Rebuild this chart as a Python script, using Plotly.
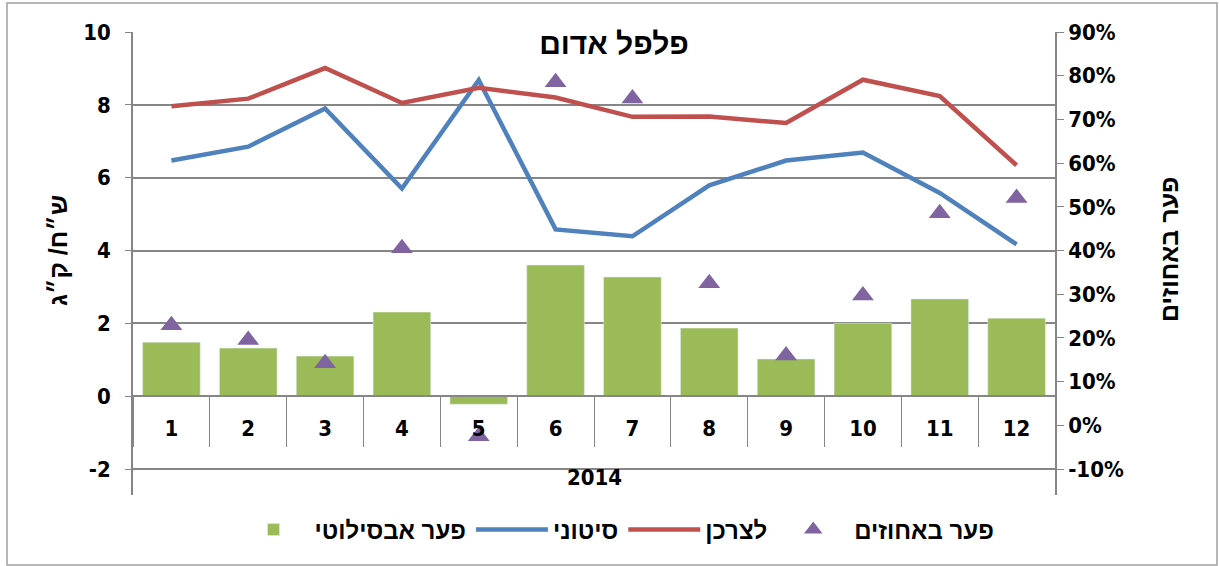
import plotly.graph_objects as go

months = ["1", "2", "3", "4", "5", "6", "7", "8", "9", "10", "11", "12"]
wholesale = [6.47, 6.85, 7.90, 5.70, 8.68, 4.58, 4.39, 5.79, 6.47, 6.69, 5.58, 4.17]
consumer = [7.96, 8.17, 9.01, 8.05, 8.47, 8.20, 7.67, 7.68, 7.50, 8.69, 8.24, 6.34]
abs_gap = [1.48, 1.32, 1.10, 2.31, -0.22, 3.60, 3.27, 1.87, 1.02, 2.00, 2.67, 2.14]
pct_gap = [0.229, 0.195, 0.142, 0.405, -0.025, 0.785, 0.748, 0.325, 0.160, 0.297, 0.485, 0.520]

left_tickvals = [-2, 0, 2, 4, 6, 8, 10]
left_ticktext = ["-2", "0", "2", "4", "6", "8", "10"]
right_tickvals = [-0.1, 0.0, 0.1, 0.2, 0.3, 0.4, 0.5, 0.6, 0.7, 0.8, 0.9]
right_ticktext = ["-10%", "0%", "10%", "20%", "30%", "40%", "50%", "60%", "70%", "80%", "90%"]

FONT = "Liberation Sans, DejaVu Sans"
NUMFONT = "DejaVu Sans Condensed, DejaVu Sans"
GRID = "#868686"

fig = go.Figure()
fig.add_trace(go.Bar(x=months, y=abs_gap, name="פער אבסילוטי",
                     marker=dict(color="#9BBB59"), width=0.75))
fig.add_trace(go.Scatter(x=months, y=wholesale, name="סיטוני", mode="lines",
                         line=dict(color="#4F81BD", width=4.5)))
fig.add_trace(go.Scatter(x=months, y=consumer, name="לצרכן", mode="lines",
                         line=dict(color="#C0504D", width=4.5)))
fig.add_trace(go.Scatter(x=months, y=pct_gap, name="פער באחוזים", mode="markers",
                         yaxis="y2",
                         marker=dict(symbol="triangle-up", size=19, color="#8064A2")))

ymin, ymax = -2.714, 10
y0pos = (0 - ymin) / (ymax - ymin)
L, T, PW, PH = 133, 32, 922, 463
numfont = dict(family=NUMFONT, size=22, weight="bold", color="black")
titlefont = dict(family=FONT, size=25, weight="bold", color="black")


def px_x(x):
    return (x - L) / PW


def px_y(y):
    return (T + PH - y) / PH


fig.update_layout(
    width=1219, height=566,
    margin=dict(l=L, r=1219 - L - PW, t=T, b=566 - T - PH, autoexpand=False),
    paper_bgcolor="white", plot_bgcolor="white",
    font=dict(family=FONT, size=20, color="black", weight="bold"),
    showlegend=True,
    legend=dict(orientation="h", x=px_x(616), xanchor="center",
                y=px_y(530), yanchor="middle", yref="paper",
                font=dict(size=24, weight="bold", family=FONT),
                itemwidth=72, traceorder="normal"),
    title=dict(text="פלפל אדום", x=px_x(614), xref="paper", xanchor="center",
               y=1 - 43 / 566, yanchor="middle",
               font=dict(size=30, weight="bold", family=FONT)),
    xaxis=dict(type="category", anchor="free", position=y0pos,
               range=[-0.5, 11.5],
               showline=True, linecolor=GRID, linewidth=1.5,
               ticks="outside", tickson="boundaries", ticklen=50,
               tickcolor=GRID, tickwidth=1.2, ticklabelstandoff=13,
               tickfont=numfont,
               showgrid=False, zeroline=False),
    yaxis=dict(range=[ymin, ymax], tickvals=left_tickvals, ticktext=left_ticktext,
               showgrid=True,
               gridcolor=GRID, gridwidth=1.5, zeroline=False,
               showline=True, linecolor=GRID, linewidth=1.5,
               ticks="outside", ticklen=6, tickcolor=GRID,
               ticklabelstandoff=10,
               tickfont=numfont),
    yaxis2=dict(overlaying="y", side="right",
                range=[-0.1595, 0.9], tickvals=right_tickvals, ticktext=right_ticktext,
                showgrid=False, zeroline=False,
                showline=True, linecolor=GRID, linewidth=1.5,
                ticks="outside", ticklen=7, tickcolor=GRID,
                tickfont=numfont),
)

# axis titles
fig.add_annotation(text="ש״ח/ ק״ג", xref="paper", yref="paper",
                   x=px_x(58), y=px_y(251), textangle=-90, showarrow=False,
                   font=titlefont, xanchor="center", yanchor="middle")
fig.add_annotation(text="פער באחוזים", xref="paper", yref="paper",
                   x=px_x(1169), y=px_y(250), textangle=-90, showarrow=False,
                   font=titlefont, xanchor="center", yanchor="middle")

# category group label
fig.add_annotation(text="2014", xref="paper", yref="paper", x=0.5,
                   y=px_y(477), showarrow=False,
                   font=numfont, yanchor="middle")

# chart border
fig.add_shape(type="rect", xref="paper", yref="paper",
              x0=px_x(7), x1=px_x(1217), y0=px_y(565), y1=px_y(3),
              line=dict(color="#A0A0A0", width=1.5), layer="below")

fig.write_html("out.html", config={"displayModeBar": False},
               post_script="document.body.style.margin='0';document.body.style.overflow='hidden';")
